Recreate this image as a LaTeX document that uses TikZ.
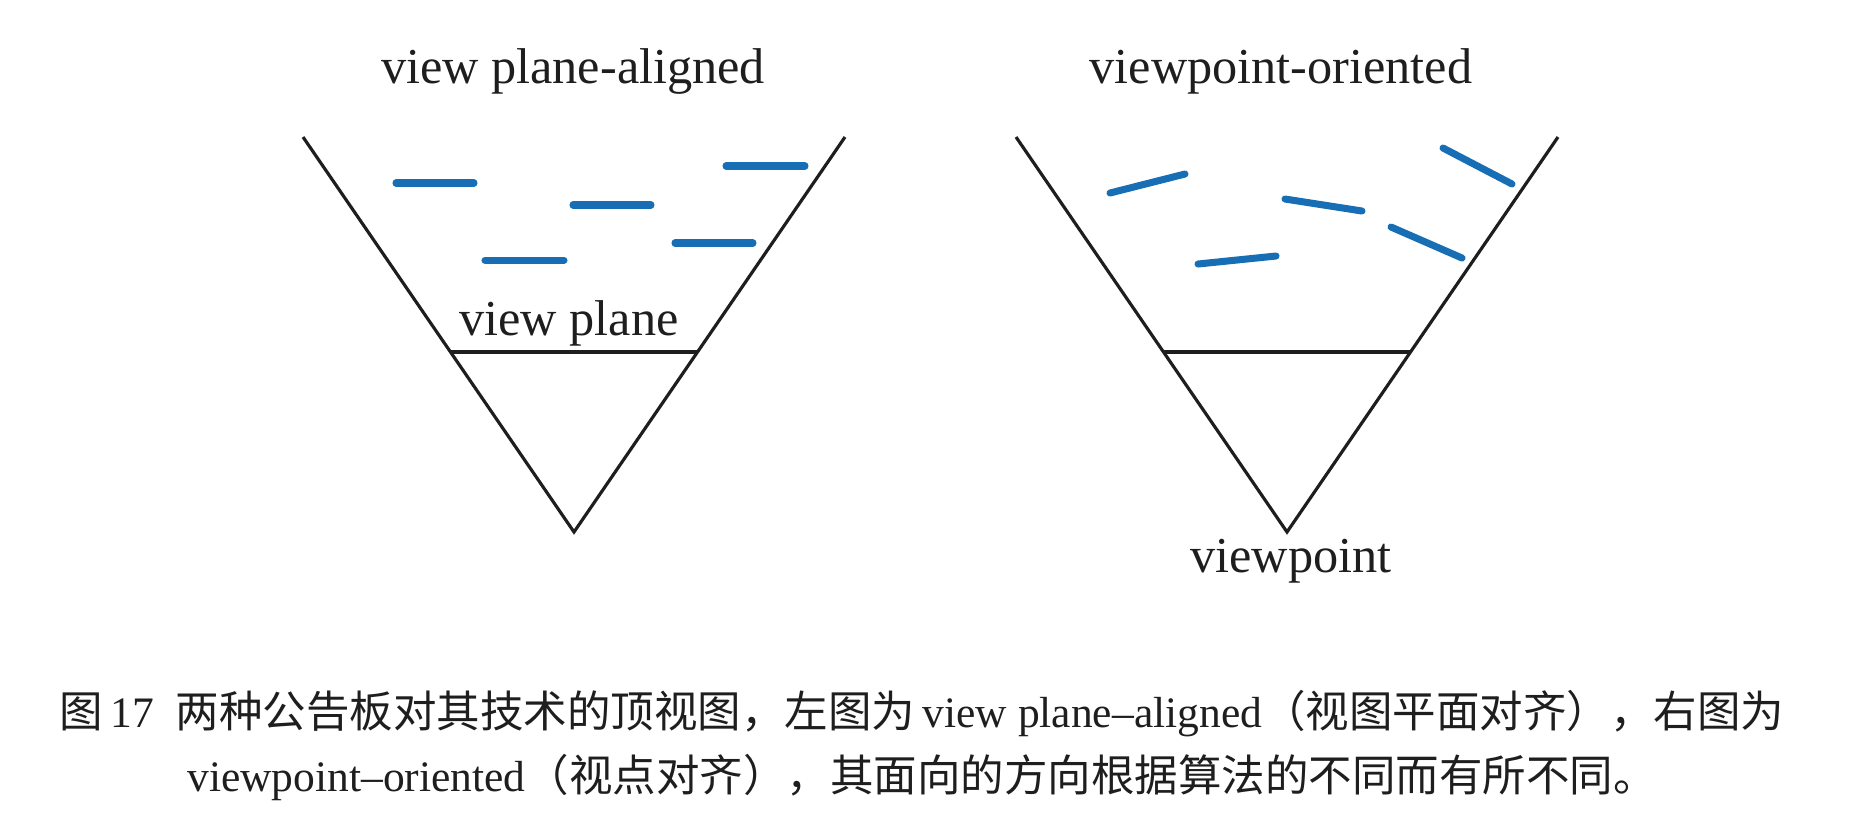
\documentclass[tikz,border=0pt]{standalone}
\usepackage{fontspec}
\setmainfont{Liberation Serif}
\newfontfamily\cjk{Noto Sans CJK SC}
\usepackage{xcolor}
\definecolor{cardblue}{RGB}{24,110,180}
\definecolor{ink}{RGB}{30,30,30}

\begin{document}
\begin{tikzpicture}[x=0.01cm,y=-0.01cm,
  frust/.style={draw=ink,line width=0.9pt},
  plane/.style={draw=ink,line width=1.2pt},
  card/.style={draw=cardblue,line width=2pt,line cap=round},
  lbl/.style={inner sep=0pt,text=ink,font=\fontsize{14.3}{17}\selectfont},
  capline/.style={inner sep=0pt,text=ink,font=\fontsize{12.37}{15}\selectfont}]
  \useasboundingbox (0,0) rectangle (1869,838);

  % Left frustum: view plane-aligned
  \coordinate (lA) at (303,137);
  \coordinate (lO) at (574,532);
  \coordinate (lB) at (845,137);
  \draw[frust] (lA) -- (lO) -- (lB);
  \coordinate (lP1) at (450,352);
  \coordinate (lP2) at (698,352);
  \draw[plane] (lP1) -- (lP2);
  \node[lbl,anchor=base] (ltitle) at (573,83) {view plane-aligned};
  \node[lbl,anchor=base] (lplane) at (569,335) {view plane};

  % Billboards parallel to the view plane
  \draw[card] (396,183) -- (474,183);
  \draw[card] (573,205) -- (651,205);
  \draw[card] (726,166) -- (805,166);
  \draw[card] (485,260) -- (564,260);
  \draw[card] (675,243) -- (753,243);

  % Right frustum: viewpoint-oriented
  \coordinate (rA) at (1016,137);
  \coordinate (rO) at (1287,532);
  \coordinate (rB) at (1558,137);
  \draw[frust] (rA) -- (rO) -- (rB);
  \coordinate (rP1) at (1163,352);
  \coordinate (rP2) at (1411,352);
  \draw[plane] (rP1) -- (rP2);
  \node[lbl,anchor=base] (rtitle) at (1281,83) {viewpoint-oriented};
  \node[lbl,anchor=base] (rpoint) at (1291,572) {viewpoint};

  % Billboards turned towards the viewpoint
  \draw[card] (1110,193) -- (1185,174);
  \draw[card] (1285,199) -- (1362,211);
  \draw[card] (1443,148) -- (1512,184);
  \draw[card] (1198,264) -- (1276,256);
  \draw[card] (1391,227) -- (1462,258);

  % Caption
  \node[capline,anchor=base] (cap1) at (922,727)
    {{\cjk 图}\,17\enspace{\cjk 两种公告板对其技术的顶视图，左图为}\,view plane–aligned{\cjk （视图平面对齐），右图为}};
  \node[capline,anchor=base] (cap2) at (922,791)
    {viewpoint–oriented{\cjk （视点对齐），其面向的方向根据算法的不同而有所不同。}};
\end{tikzpicture}
\end{document}
